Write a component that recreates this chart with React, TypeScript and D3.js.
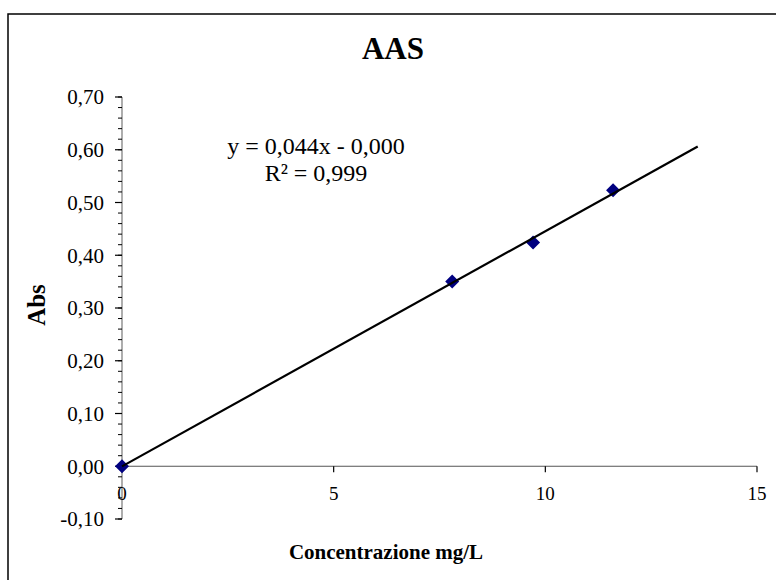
import React from "react";
import * as d3 from "d3";

const concentrations = [0, 7.8, 9.71, 11.6];
const absorbances = [0, 0.35, 0.424, 0.523];
const xTicks = [0, 5, 10, 15];
const yTicks = [-0.1, 0, 0.1, 0.2, 0.3, 0.4, 0.5, 0.6, 0.7];
const trendSlope = 0.0446;
const trendIntercept = -0.0003;
const trendXEnd = 13.6;
const equationLines = ["y = 0,044x - 0,000", "R² = 0,999"];
const title = "AAS";
const xTitle = "Concentrazione mg/L";
const yTitle = "Abs";

const W = 776;
const H = 580;
const font = "'Liberation Serif', 'Times New Roman', serif";

export default function App() {
  const x = d3.scaleLinear().domain([0, 15]).range([122, 757]);
  const y = d3.scaleLinear().domain([-0.1, 0.7]).range([519, 97]);
  const minorTicks = d3.range(-0.1, 0.7001, 0.02);
  const fmt = (v: number) => d3.format(".2f")(v).replace(".", ",").replace("−", "-");
  const lineGen = d3.line<number>().x((d) => x(d)).y((d) => y(trendSlope * d + trendIntercept));
  const diamond = d3.symbol().type(d3.symbolSquare).size(98)();

  return (
    <svg width={W} height={H} style={{ position: "absolute", left: 0, top: 0 }} fontFamily={font}>
      <rect x={0} y={0} width={W} height={H} fill="#fff" />
      <rect x={8} y={14} width={W + 20} height={H + 20} fill="#fff" stroke="#000" strokeWidth={1.5} />
      <text x={393} y={59} textAnchor="middle" fontSize={31} fontWeight="bold">{title}</text>

      {/* y axis */}
      <line x1={x(0)} x2={x(0)} y1={y(0.7)} y2={y(-0.1)} stroke="#777" strokeWidth={1.2} />
      {minorTicks.map((t, i) => (
        <line key={"m" + i} x1={x(0) - 4} x2={x(0)} y1={y(t)} y2={y(t)} stroke="#000" strokeWidth={1} />
      ))}
      {yTicks.map((t, i) => (
        <g key={"y" + i}>
          <line x1={x(0) - 7} x2={x(0)} y1={y(t)} y2={y(t)} stroke="#000" strokeWidth={1.2} />
          <text x={104} y={y(t)} dy="0.35em" textAnchor="end" fontSize={21}>{fmt(t)}</text>
        </g>
      ))}

      {/* x axis */}
      <line x1={x(0)} x2={x(15)} y1={y(0)} y2={y(0)} stroke="#555" strokeWidth={1.2} />
      {xTicks.map((t, i) => (
        <g key={"x" + i}>
          <line x1={x(t)} x2={x(t)} y1={y(0)} y2={y(0) + 6} stroke="#000" strokeWidth={1.2} />
          <text x={x(t)} y={500} textAnchor="middle" fontSize={19}>{t}</text>
        </g>
      ))}

      <text x={386} y={559} textAnchor="middle" fontSize={21} fontWeight="bold">{xTitle}</text>
      <text transform={`translate(45,305) rotate(-90)`} textAnchor="middle" fontSize={25} fontWeight="bold">{yTitle}</text>

      {/* points */}
      {concentrations.map((c, i) => (
        <path key={"p" + i} d={diamond as string} transform={`translate(${x(c)},${y(absorbances[i])}) rotate(45)`} fill="#000080" />
      ))}

      {/* trendline */}
      <path d={lineGen([0, trendXEnd]) as string} fill="none" stroke="#000" strokeWidth={2.2} />

      {equationLines.map((l, i) => (
        <text key={"e" + i} x={316} y={154 + i * 27} textAnchor="middle" fontSize={24}>{l}</text>
      ))}
    </svg>
  );
}
